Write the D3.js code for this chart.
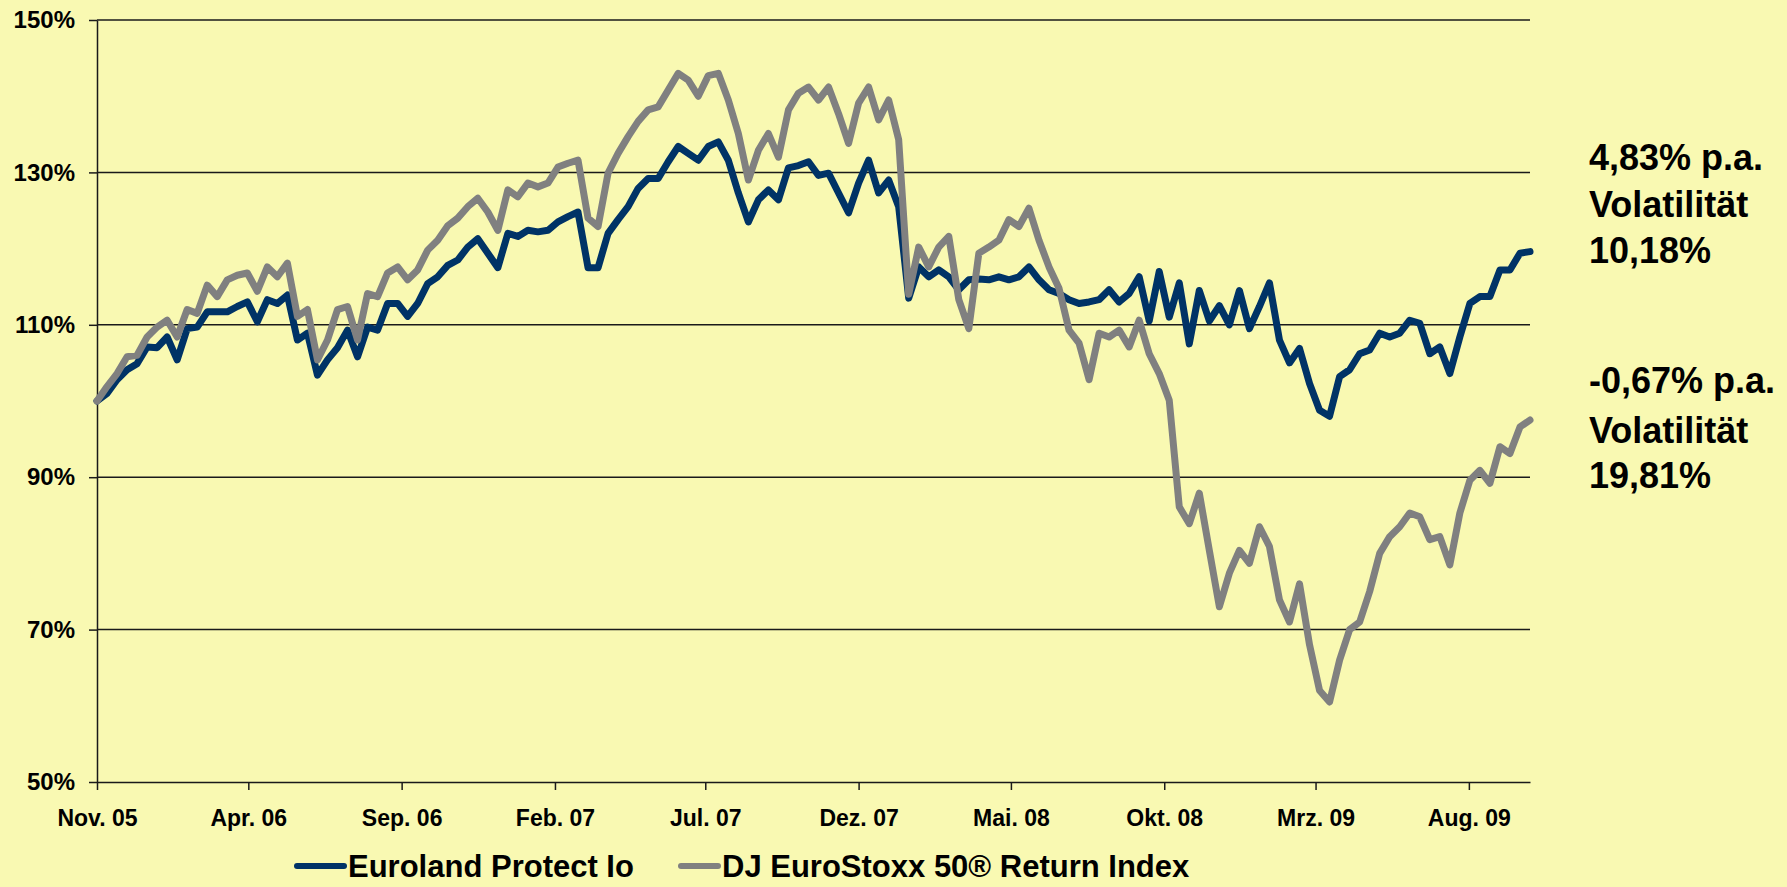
<!DOCTYPE html>
<html>
<head>
<meta charset="utf-8">
<script src="https://cdn.jsdelivr.net/npm/d3@7"></script>
<style>
  body { margin: 0; background: #F9F9B2; }
  svg { display: block; font-family: "Liberation Sans", Arial, sans-serif; font-weight: bold; }
</style>
</head>
<body>
<div id="chart"></div>
<script>
// values, one every ~10 days from 1 Nov 2005
const euroland = [
  100, 101, 102.8, 104.1, 104.9, 107.1, 107, 108.4, 105.4, 109.5,
  109.7, 111.7, 111.7, 111.7, 112.4, 113, 110.4, 113.3, 112.8, 113.9,
  108, 108.9, 103.4, 105.4, 107, 109.3, 105.8, 109.7, 109.3, 112.8,
  112.8, 111.1, 112.8, 115.4, 116.3, 117.8, 118.5, 120.2, 121.3, 119.4,
  117.5, 122, 121.6, 122.4, 122.2, 122.4, 123.5, 124.2, 124.8, 117.5,
  117.5, 122, 123.8, 125.5, 127.9, 129.2, 129.2, 131.4, 133.4, 132.5,
  131.6, 133.4, 134, 131.6, 127.3, 123.5, 126.4, 127.7, 126.4, 130.6,
  130.9, 131.4, 129.6, 129.9, 127.3, 124.7, 128.6, 131.6, 127.3, 129,
  125.5, 113.5, 117.6, 116.3, 117.2, 116.3, 114.6, 115.9, 116, 115.9,
  116.3, 115.9, 116.3, 117.6, 115.9, 114.6, 114.1, 113.3, 112.8, 113,
  113.3, 114.6, 113, 114.1, 116.3, 110.5, 117, 111, 115.5, 107.5,
  114.5, 110.5, 112.5, 110, 114.5, 109.5, 112.4, 115.5, 108, 105,
  106.9, 102.3, 98.8, 98, 103.2, 104.1, 106.2, 106.7, 108.9, 108.4,
  108.9, 110.6, 110.2, 106.2, 107.1, 103.6, 108.4, 112.8, 113.7, 113.7,
  117.2, 117.2, 119.4, 119.6
];
const stoxx = [
  100, 101.9, 103.6, 105.8, 106, 108.4, 109.7, 110.6, 108.4, 112,
  111.5, 115.2, 113.7, 115.9, 116.5, 116.8, 114.4, 117.6, 116.3, 118.1,
  111.1, 112, 105.4, 108, 112, 112.4, 108, 114.1, 113.7, 116.8,
  117.6, 115.9, 117.2, 119.8, 121.1, 123, 124, 125.5, 126.6, 124.8,
  122.4, 127.7, 126.8, 128.6, 128.1, 128.6, 130.7, 131.2, 131.6, 124,
  122.9, 129.9, 132.5, 134.7, 136.7, 138.2, 138.6, 140.8, 143, 142.1,
  140, 142.7, 143, 139.5, 135.1, 129, 132.9, 135.1, 132, 138.2,
  140.4, 141.2, 139.5, 141.2, 137.7, 133.8, 139.1, 141.2, 136.9, 139.5,
  134.3, 114, 120.2, 117.6, 120.2, 121.6, 113.3, 109.5, 119.4, 120.2,
  121.1, 123.8, 122.9, 125.3, 121.1, 117.6, 114.8, 109.3, 107.6, 102.8,
  108.9, 108.4, 109.3, 107.1, 110.6, 106.2, 103.6, 100.1, 86.1, 83.9,
  87.9, 80.4, 73, 77.4, 80.4, 78.7, 83.5, 80.9, 73.9, 71,
  76, 68, 62, 60.5, 66, 70, 71, 75, 80, 82.2,
  83.5, 85.3, 84.8, 81.8, 82.2, 78.5, 85.3, 89.6, 90.9, 89.2,
  94, 93.1, 96.6, 97.5
];
const xTickLabels = ["Nov. 05", "Apr. 06", "Sep. 06", "Feb. 07", "Jul. 07",
  "Dez. 07", "Mai. 08", "Okt. 08", "Mrz. 09", "Aug. 09"];
const yTicks = [50, 70, 90, 110, 130, 150];
const seriesNames = ["Euroland Protect Io", "DJ EuroStoxx 50\u00AE Return Index"];
const notes = [["4,83% p.a.", "Volatilit\u00E4t", "10,18%"], ["-0,67% p.a.", "Volatilit\u00E4t", "19,81%"]];

const W = 1787, H = 887;
const start = new Date(2005, 10, 1);
const dates = euroland.map((d, i) => d3.timeDay.offset(start, i * 10));
const tickDates = xTickLabels.map((d, i) => d3.timeMonth.offset(start, i * 5));

const x = d3.scaleTime().domain([start, new Date(2009, 9, 1)]).range([97, 1530]);
const y = d3.scaleLinear().domain([50, 150]).range([782, 20]);

const svg = d3.select("#chart").append("svg")
  .attr("width", W)
  .attr("height", H);

svg.append("rect").attr("width", W).attr("height", H).attr("fill", "#F9F9B2");

// gridlines
svg.append("g")
  .selectAll("line")
  .data(yTicks.slice(1))
  .enter()
  .append("line")
  .attr("x1", x.range()[0])
  .attr("x2", x.range()[1])
  .attr("y1", (d) => y(d))
  .attr("y2", (d) => y(d))
  .attr("stroke", "#1a1a1a")
  .attr("stroke-width", 1.5);

let yAxis = svg.append("g")
  .attr("transform", "translate(97,0)")
  .call(d3.axisLeft(y).tickValues(yTicks).tickSize(8).tickSizeOuter(0).tickPadding(14).tickFormat((d) => d + "%"));

let xAxis = svg.append("g")
  .attr("transform", "translate(0,782)")
  .call(d3.axisBottom(x).tickValues(tickDates).tickSize(8).tickSizeOuter(0).tickPadding(20)
    .tickFormat((d, i) => xTickLabels[i]));

[yAxis, xAxis].forEach((a) => {
  a.selectAll("path, line").attr("stroke", "#1a1a1a").attr("stroke-width", 1.5);
  a.selectAll("text").attr("fill", "#000").style("font-size", "23px").style("font-weight", "bold")
    .style("font-family", "'Liberation Sans', Arial, sans-serif");
});
yAxis.selectAll("text").style("font-size", "24px");

let line = d3.line()
  .x((d, i) => x(dates[i]))
  .y((d) => y(d));

let colors = ["#003366", "#808080"];
[euroland, stoxx].forEach((s, k) => {
  svg.append("path")
    .datum(s)
    .attr("d", line)
    .attr("fill", "none")
    .attr("stroke", colors[k])
    .attr("stroke-width", 7)
    .attr("stroke-linejoin", "round")
    .attr("stroke-linecap", "round");
});

// legend
let legendX = [[297, 344, 348], [681, 718, 722]];
seriesNames.forEach((name, k) => {
  svg.append("line")
    .attr("x1", legendX[k][0]).attr("x2", legendX[k][1])
    .attr("y1", 866).attr("y2", 866)
    .attr("stroke", colors[k]).attr("stroke-width", 6).attr("stroke-linecap", "round");
  svg.append("text")
    .attr("x", legendX[k][2]).attr("y", 866).attr("dy", "0.36em")
    .style("font-size", "31px")
    .text(name);
});

// annotations on the right
let noteY = [[157, 204, 250], [380, 430, 475]];
notes.forEach((lines, k) => {
  lines.forEach((t, j) => {
    svg.append("text")
      .attr("x", 1589).attr("y", noteY[k][j]).attr("dy", "0.36em")
      .style("font-size", "36px")
      .text(t);
  });
});
</script>
</body>
</html>
